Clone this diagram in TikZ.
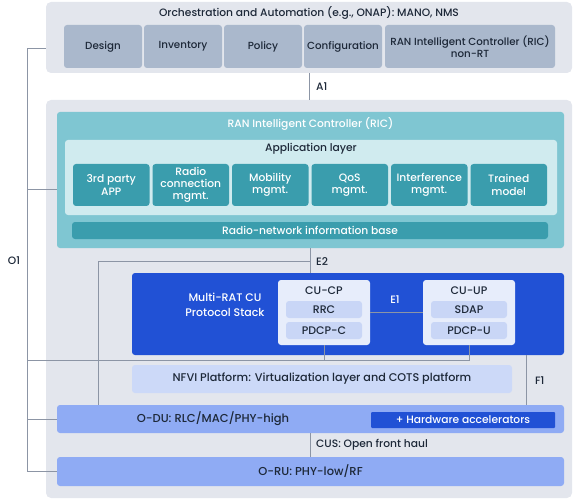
\documentclass[tikz,border=0pt]{standalone}
\usepackage{fontspec}
\setmainfont{Poppins}[UprightFont={* Medium}]
\usetikzlibrary{positioning}

\definecolor{panelbg}{HTML}{E3E6ED}
\definecolor{orchbox}{HTML}{AAB8CC}
\definecolor{ricbg}{HTML}{7FC6D2}
\definecolor{applayer}{HTML}{D0EBEF}
\definecolor{appbox}{HTML}{3A9DAD}
\definecolor{cublue}{HTML}{2151D5}
\definecolor{cubox}{HTML}{E7EDFB}
\definecolor{layerbox}{HTML}{C9D6F6}
\definecolor{nfvibox}{HTML}{CCD9F8}
\definecolor{dubox}{HTML}{8FABF4}
\definecolor{ink}{HTML}{1D2838}
\definecolor{wire}{HTML}{8C95A5}

\begin{document}
\begin{tikzpicture}[
x=1pt, y=-1pt,
font=\fontsize{10.7}{12.3}\selectfont,
panel/.style={fill=panelbg, rounded corners=5pt, inner sep=0pt},
box/.style={rounded corners=3pt, inner sep=0pt, align=center, text=ink},
orchitem/.style={box, fill=orchbox, minimum width=78pt, minimum height=43pt, font=\fontsize{10.3}{12}\selectfont},
appitem/.style={box, fill=appbox, text=white, minimum width=76.5pt, minimum height=42pt},
layer/.style={box, fill=layerbox, minimum width=76pt, minimum height=17pt, font=\fontsize{11}{12}\selectfont},
bigbar/.style={box, fill=dubox, minimum width=507pt, font=\fontsize{11.5}{13}\selectfont},
link/.style={draw=wire, line width=0.9pt},
lbl/.style={text=ink, inner sep=0pt, anchor=west}
]
\useasboundingbox (0,0) rectangle (576,500);

% orchestration
\node[panel, minimum width=526pt, minimum height=71pt] (orch) at (309,37.5) {};
\node[text=ink, inner sep=0pt] (orchtitle) at (309,13) {Orchestration and Automation (e.g., ONAP): MANO, NMS};
\foreach \n/\t [count=\i] in {design/Design, inventory/Inventory, policy/Policy, config/Configuration} {
  \node[orchitem] (\n) at ({23+80*\i},46.5) {\t};
}
\node[orchitem, minimum width=170pt] (nonrt) at (470,46.5) {RAN Intelligent Controller (RIC)\\non-RT};

% RAN side
\node[panel, minimum width=526pt, minimum height=398pt] (ran) at (309,299) {};

% RIC
\node[box, fill=ricbg, minimum width=507pt, minimum height=136pt] (ric) at (310.5,180) {};
\node[text=white, inner sep=0pt] (rictitle) at (310.5,124) {RAN Intelligent Controller (RIC)};
\node[box, fill=applayer, minimum width=492pt, minimum height=75pt] (apps) at (311,177.5) {};
\node[text=ink, inner sep=0pt] (appstitle) at (311,149) {Application layer};
\foreach \n/\t [count=\i from 0] in {party/{3rd party\\APP}, radioconn/{Radio\\connection\\mgmt.},
    mobility/{Mobility\\mgmt.}, qos/{QoS\\mgmt.}, interf/{Interference\\mgmt.}, trained/{Trained\\model}} {
  \node[appitem] (\n) at ({111.25+79.5*\i},185) {\t};
}
\node[box, fill=appbox, text=white, minimum width=476pt, minimum height=17pt] (rnib) at (310,230.5) {Radio-network information base};

% CU
\node[box, fill=cublue, minimum width=432pt, minimum height=82pt] (cu) at (348,314) {};
\node[text=white, inner sep=0pt, align=center, font=\fontsize{11}{15}\selectfont] (culabel) at (225,305) {Multi-RAT CU\\Protocol Stack};
\node[box, fill=cubox, minimum width=92pt, minimum height=65pt] (cucp) at (324,312.5) {};
\node[text=ink, inner sep=0pt, font=\fontsize{11}{12}\selectfont] (cucptitle) at (324,291) {CU-CP};
\node[layer] (rrc) at (324,309.5) {RRC};
\node[layer] (pdcpc) at (324,330.5) {PDCP-C};
\node[box, fill=cubox, minimum width=92pt, minimum height=65pt] (cuup) at (469,312.5) {};
\node[text=ink, inner sep=0pt, font=\fontsize{11}{12}\selectfont] (cuuptitle) at (469,291) {CU-UP};
\node[layer] (sdap) at (469,309.5) {SDAP};
\node[layer] (pdcpu) at (469,330.5) {PDCP-U};

% NFVI, DU, RU
\node[box, fill=nfvibox, minimum width=380pt, minimum height=28pt, font=\fontsize{11.2}{13}\selectfont] (nfvi) at (322,379) {NFVI Platform: Virtualization layer and COTS platform};
\node[bigbar, minimum height=28pt] (odu) at (310.5,419) {};
\node[text=ink, inner sep=0pt, font=\fontsize{11.5}{13}\selectfont] (odulabel) at (213,419) {O-DU: RLC/MAC/PHY-high};
\node[box, rounded corners=1pt, fill=cublue, text=white, minimum width=184pt, minimum height=16pt] (hwacc) at (463,420) {+ Hardware accelerators};
\node[bigbar, minimum height=29pt] (oru) at (310.5,471.5) {O-RU: PHY-low/RF};

% interfaces
\coordinate (o1) at (27,48);
\coordinate (o1ric) at (27,189);
\coordinate (o1cu) at (27,360);
\coordinate (e2bend) at (98,261);
\coordinate (f1top) at (526,355);

\draw[link] (orch.south) -- (ran.north);
\node[lbl] (a1) at (316,87) {A1};

\draw[link] (ric.south) -- (ric.south |- cu.north);
\draw[link] (ric.south |- e2bend) -- (e2bend) -- (e2bend |- odu.north);
\node[lbl] (e2) at (316,262) {E2};

\draw[link] (cucp.east) -- (cuup.west);
\node[text=white, inner sep=0pt] (e1) at (395,300) {E1};

\draw[link] (cuup.south) |- (o1cu);
\draw[link] (cucp.south) -- (cucp.south |- o1cu);

\draw[link] (f1top) -- (f1top |- odu.north);
\node[lbl] (f1) at (535,381) {F1};

\draw[link] (odu.south) -- (oru.north);
\node[lbl] (cus) at (316,445) {CUS: Open front haul};

\draw[link] (o1 -| orch.west) -- (o1) |- (oru.west);
\draw[link] (o1ric) -- (o1ric -| ric.west);
\draw[link] (o1 |- odu.west) -- (odu.west);
\node[text=ink, inner sep=0pt] (o1label) at (14,261) {O1};

\end{tikzpicture}
\end{document}
